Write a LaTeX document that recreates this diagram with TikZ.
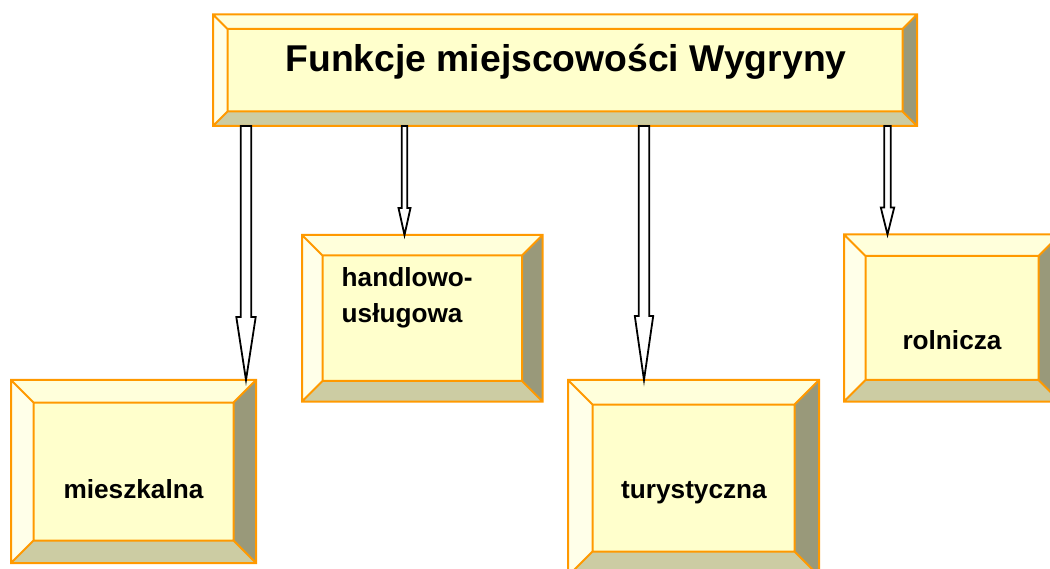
\documentclass[tikz,border=0pt]{standalone}
\usepackage{fontspec}
\setmainfont{Liberation Sans}
\usetikzlibrary{calc, positioning}
\definecolor{face}{HTML}{FFFFCC}
\definecolor{bvtop}{HTML}{FFFFDB}
\definecolor{bvleft}{HTML}{FFFFE9}
\definecolor{bvright}{HTML}{99997A}
\definecolor{bvbottom}{HTML}{CCCCA3}
\definecolor{edge}{HTML}{FF9900}
\tikzset{
  bevbox/.style={rectangle, inner sep=0pt, outer sep=0pt, anchor=north west, fill=face},
  edgeline/.style={draw=edge, line width=2pt, line join=miter},
  boxtext/.style={font=\bfseries\fontsize{26.2}{35.7}\selectfont, inner sep=0pt, anchor=base},
  hollow/.style={draw=black, fill=white, line width=1.8pt, line join=miter}
}
\newcommand\bevel[2]{%
  \coordinate (#1-a) at ([shift={(#2,#2)}]#1.north west);
  \coordinate (#1-b) at ([shift={(-#2,#2)}]#1.north east);
  \coordinate (#1-c) at ([shift={(-#2,-#2)}]#1.south east);
  \coordinate (#1-d) at ([shift={(#2,-#2)}]#1.south west);
  \fill[bvtop] (#1.north west) -- (#1.north east) -- (#1-b) -- (#1-a) -- cycle;
  \fill[bvleft] (#1.north west) -- (#1-a) -- (#1-d) -- (#1.south west) -- cycle;
  \fill[bvright] (#1.north east) -- (#1.south east) -- (#1-c) -- (#1-b) -- cycle;
  \fill[bvbottom] (#1.south west) -- (#1-d) -- (#1-c) -- (#1.south east) -- cycle;
  \draw[edgeline] (#1.north west) rectangle (#1.south east) (#1-a) rectangle (#1-c)
    (#1.north west) -- (#1-a) (#1.north east) -- (#1-b)
    (#1.south east) -- (#1-c) (#1.south west) -- (#1-d);
}
\newcommand\hollowarrow[5]{%
  \draw[hollow] ($(#1)+(-#3,0)$) -- ($(#2)+(-#3,-#5)$) -- ($(#2)+(-#4,-#5)$) -- (#2)
    -- ($(#2)+(#4,-#5)$) -- ($(#2)+(#3,-#5)$) -- ($(#1)+(#3,0)$) -- cycle;
}

\begin{document}
\begin{tikzpicture}[x=1pt, y=-1pt]
\useasboundingbox (0,0) rectangle (1050,569);
\clip (0,0) rectangle (1050,569);

\node[bevbox, minimum width=704pt, minimum height=111.5pt] (title) at (213,14.5) {};
\node[bevbox, minimum width=245pt, minimum height=183pt] (mieszk) at (11,380) {};
\node[bevbox, minimum width=240.5pt, minimum height=166.5pt] (handl) at (302,235) {};
\node[bevbox, minimum width=251pt, minimum height=196pt] (tury) at (568,380) {};
\node[bevbox, minimum width=216pt, minimum height=167pt] (rolni) at (844,234.5) {};
\bevel{title}{14.5}
\bevel{mieszk}{22.5}
\bevel{handl}{20.5}
\bevel{tury}{24.5}
\bevel{rolni}{21.5}

\node[boxtext, font=\bfseries\fontsize{37.3}{44}\selectfont] (titletext) at (566,72) {Funkcje miejscowości Wygryny};
\node[boxtext] (mieszktext) at (133.5,498) {mieszkalna};
\node[boxtext, anchor=base west, align=left] (handltext) at (341.5,322.7) {handlowo-\\usługowa};
\node[boxtext] (turytext) at (694,498) {turystyczna};
\node[boxtext] (rolnitext) at (952,349.5) {rolnicza};

\coordinate (t1) at ([shift={(-10,0)}]mieszk.north east);
\coordinate (t2) at ([shift={(-17.75,0)}]handl.north);
\coordinate (t3) at ([shift={(-49.5,0)}]tury.north);
\coordinate (t4) at ([shift={(-64.5,0)}]rolni.north);
\coordinate (s1) at (title.south -| t1);
\coordinate (s2) at (title.south -| t2);
\coordinate (s3) at (title.south -| t3);
\coordinate (s4) at (title.south -| t4);
\hollowarrow{s1}{t1}{5.2}{9.7}{63}
\hollowarrow{s2}{t2}{2.8}{6}{27}
\hollowarrow{s3}{t3}{5.3}{9.2}{64}
\hollowarrow{s4}{t4}{3.2}{6.7}{27}
\end{tikzpicture}
\end{document}
